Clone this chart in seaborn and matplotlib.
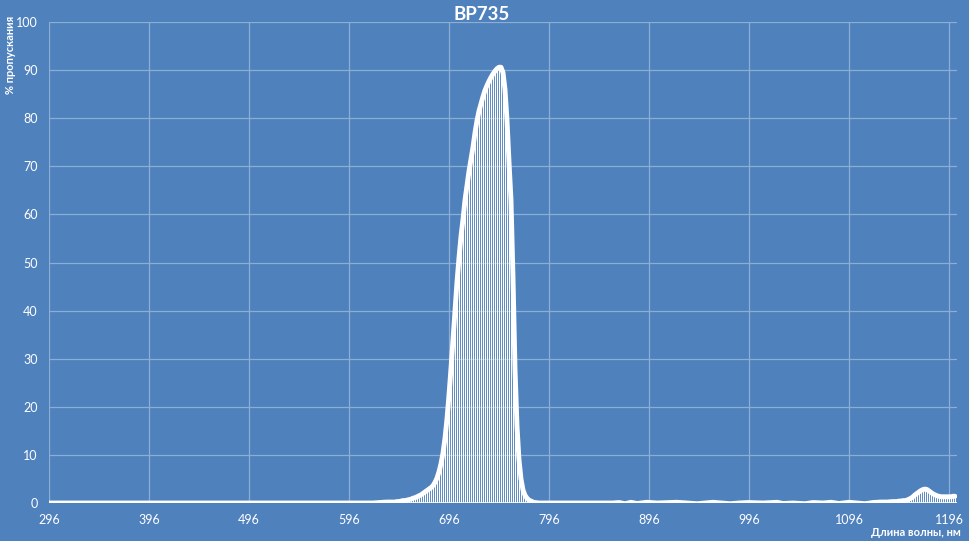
import numpy as np
import pandas as pd
import seaborn as sns
import matplotlib.pyplot as plt

# baseline before the passband
left_nm = [296, 620, 626, 630, 634, 638]
left_val = [0, 0, 0.1, 0.15, 0.2, 0.2]

# passband, every 2 nm from 640 to 790
peak_nm = list(range(640, 792, 2))
peak_val = [0.2, 0.2, 0.3, 0.3, 0.4, 0.5, 0.5, 0.6, 0.7, 0.8,
            1.0, 1.1, 1.3, 1.5, 1.7, 2.0, 2.3, 2.6, 2.9, 3.2,
            3.6, 4.3, 5.2, 6.5, 8.2, 10.4, 13.5, 17.5, 22.5, 28,
            34, 40, 46, 51, 55.5, 59, 63, 66, 69, 71.5,
            74, 77, 79.5, 81.5, 83, 84.5, 85.8, 86.8, 87.7, 88.5,
            89.2, 89.8, 90.3, 90.6, 90.6, 89.5, 86, 79.6, 71, 63,
            47, 28, 16, 9, 5, 2.7, 1.6, 1.0, 0.6, 0.4,
            0.2, 0.1, 0.05, 0, 0, 0]

# noisy baseline in the near IR
noise_nm = [800, 860, 866, 872, 878, 884, 894, 904, 924, 934, 944, 952,
            960, 968, 977, 986, 995, 1010, 1024, 1030, 1040, 1052, 1060,
            1070, 1078, 1086, 1096, 1104, 1112, 1120, 1128, 1134]
noise_val = [0, 0, 0.1, -0.15, 0.15, -0.1, 0.15, 0, 0.15, 0, -0.15, 0,
             0.15, 0, -0.15, 0, 0.1, 0, 0.15, -0.1, 0, -0.15, 0.1,
             0, 0.15, -0.1, 0.15, 0, -0.15, 0.1, 0.2, 0.2]

# small bump at the long-wave end
tail_nm = list(range(1140, 1204, 2))
tail_val = [0.3, 0.3, 0.3, 0.4, 0.4, 0.5, 0.5, 0.6, 0.8, 1.0,
            1.3, 1.7, 2.0, 2.3, 2.6, 2.8, 2.9, 2.8, 2.5, 2.2,
            1.9, 1.7, 1.5, 1.4, 1.3, 1.3, 1.3, 1.3, 1.3, 1.3,
            1.4, 1.4]

df = pd.DataFrame({
    "nm": left_nm + peak_nm + noise_nm + tail_nm,
    "val": left_val + peak_val + noise_val + tail_val,
})

bg = "#4F81BD"
sns.set_style("whitegrid", {"axes.facecolor": bg, "figure.facecolor": bg,
                            "grid.color": "#8CADD4", "axes.edgecolor": bg})
plt.rcParams["font.family"] = ["Lato", "DejaVu Sans"]

fig = plt.figure(figsize=(9.7, 5.41), dpi=100)
ax = fig.add_axes([49 / 970, 38 / 541, 908 / 970, 481 / 541])

# drop lines from every point to the axis
ax.vlines(df["nm"], 0, df["val"].clip(lower=0), color="white", lw=0.8)
ax.axhline(0, color="white", lw=1.2, zorder=2)
sns.lineplot(data=df, x="nm", y="val", ax=ax, color="white", lw=3.5,
             sort=False, zorder=3)

ax.set_xlim(296, 1204)
ax.set_ylim(0, 100)
ax.set_xticks(range(296, 1197, 100))
ax.set_yticks(range(0, 101, 10))
ax.tick_params(colors="white", labelsize=9, length=0, pad=8)
ax.grid(True, lw=0.9)
for s in ax.spines.values():
    s.set_visible(False)

ax.set_xlabel("")
ax.set_ylabel("")
fig.text(0.497, 0.988, "BP735", ha="center", va="top", color="white",
         fontsize=13.5, fontweight="bold")
fig.text(0.011, 0.97, "% пропускания", rotation=90, ha="center", va="top",
         color="white", fontsize=8, fontweight="bold")
fig.text(0.99, 0.005, "Длина волны, нм", ha="right", va="bottom",
         color="white", fontsize=8, fontweight="bold")

fig.savefig("out.png", dpi=100, facecolor=bg)
